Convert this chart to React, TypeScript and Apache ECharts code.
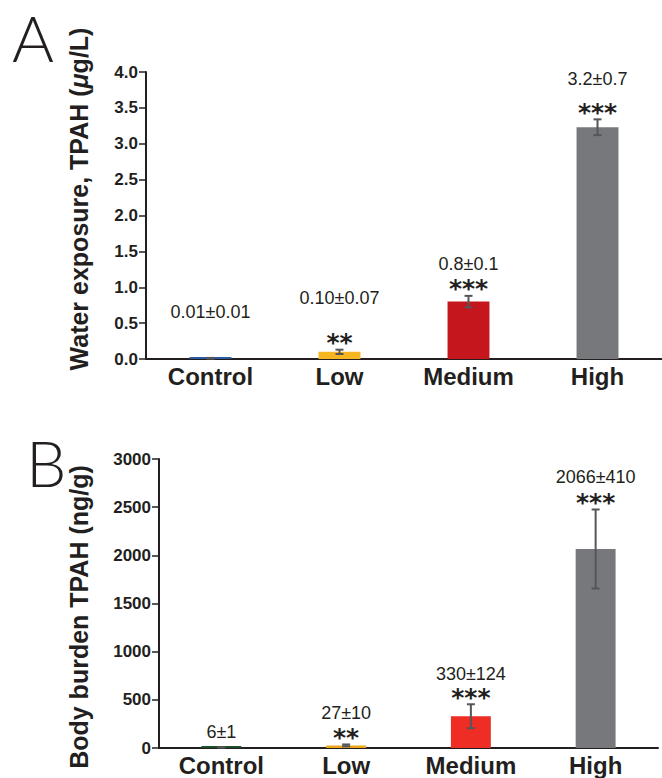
import React, { useEffect, useRef } from "react";
import * as echarts from "echarts";

const categories = ["Control", "Low", "Medium", "High"];

// Panel A: water exposure (µg/L)
const waterMean = [0.01, 0.1, 0.8, 3.23];
const waterErr = [0.005, 0.03, 0.08, 0.11];
const waterLabels = ["0.01±0.01", "0.10±0.07", "0.8±0.1", "3.2±0.7"];
const waterStars = ["", "**", "***", "***"];
const waterColors = ["#2c5aa0", "#f7b520", "#c4161c", "#77787b"];
const waterTicks = [0, 0.5, 1, 1.5, 2, 2.5, 3, 3.5, 4];

// Panel B: body burden (ng/g)
const bodyMean = [6, 27, 330, 2066];
const bodyErr = [1, 10, 124, 410];
const bodyLabels = ["6±1", "27±10", "330±124", "2066±410"];
const bodyStars = ["", "**", "***", "***"];
const bodyColors = ["#1d4f2a", "#eca61c", "#ee2d24", "#77787b"];
const bodyTicks = [0, 500, 1000, 1500, 2000, 2500, 3000];

// label placement (pixels above the error bar top)
const labelLiftA = [46, 52, 32, 40];
const labelLiftB = [15, 31, 30, 32];
const starLift = 7;

const FONT = "'Liberation Sans', Arial, Helvetica, sans-serif";
const STAR_FONT = "'DejaVu Sans', 'Liberation Sans', sans-serif";
const INK = "#231f20";

function makeErrSeries(
  xIdx: number,
  mean: number[],
  err: number[],
  labels: string[],
  stars: string[],
  lifts: number[]
) {
  return {
    type: "custom",
    xAxisIndex: xIdx,
    yAxisIndex: xIdx,
    clip: false,
    silent: true,
    z: 5,
    data: mean.map((m, i) => [i, m, err[i]]),
    renderItem: (params: any, api: any) => {
      const i = api.value(0);
      const m = api.value(1);
      const e = api.value(2);
      const top = api.coord([i, m + e]);
      const bot = api.coord([i, Math.max(m - e, 0)]);
      const x = top[0];
      const cap = 4;
      const st = { stroke: "#55565a", lineWidth: 2 };
      const children: any[] = [
        { type: "line", shape: { x1: x, y1: top[1], x2: x, y2: bot[1] }, style: st },
        { type: "line", shape: { x1: x - cap, y1: top[1], x2: x + cap, y2: top[1] }, style: st },
        { type: "line", shape: { x1: x - cap, y1: bot[1], x2: x + cap, y2: bot[1] }, style: st },
        {
          type: "text",
          x: x,
          y: top[1] - lifts[i],
          style: {
            text: labels[i],
            fill: INK,
            font: `18px ${FONT}`,
            align: "center",
            verticalAlign: "middle",
          },
        },
      ];
      if (stars[i]) {
        children.push({
          type: "text",
          x: x,
          y: top[1] - starLift,
          style: {
            text: stars[i],
            fill: INK,
            font: `bold 25px ${STAR_FONT}`,
            lineHeight: 14,
            align: "center",
            verticalAlign: "middle",
          },
        });
      }
      return { type: "group", children };
    },
  };
}

export default function App() {
  const ref = useRef<HTMLDivElement>(null);
  useEffect(() => {
    if (!ref.current) return;
    const chart = echarts.init(ref.current, undefined, { renderer: "svg" });
    const yAxisCommon = {
      type: "value",
      splitLine: { show: false },
      axisLine: { show: true, lineStyle: { color: INK, width: 2 } },
      axisTick: { show: true, length: 7, lineStyle: { color: INK, width: 1.5 } },
      axisLabel: { color: INK, fontFamily: FONT, fontWeight: "bold", fontSize: 17, margin: 8 },
    };
    const xAxisCommon = {
      type: "category",
      data: categories,
      axisLine: { show: true, lineStyle: { color: INK, width: 2 } },
      axisTick: { show: false },
      axisLabel: { color: INK, fontFamily: FONT, fontWeight: "bold", fontSize: 24, margin: 5 },
    };
    chart.setOption({
      animation: false,
      grid: [
        { left: 146, top: 72, height: 287, right: 0 },
        { left: 159, top: 459, height: 289, right: 4 },
      ],
      xAxis: [
        { ...xAxisCommon, gridIndex: 0 },
        { ...xAxisCommon, gridIndex: 1 },
      ],
      yAxis: [
        {
          ...yAxisCommon,
          gridIndex: 0,
          min: waterTicks[0],
          max: waterTicks[waterTicks.length - 1],
          interval: waterTicks[1] - waterTicks[0],
          axisLabel: { ...yAxisCommon.axisLabel, formatter: (v: number) => v.toFixed(1) },
        },
        {
          ...yAxisCommon,
          gridIndex: 1,
          min: bodyTicks[0],
          max: bodyTicks[bodyTicks.length - 1],
          interval: bodyTicks[1] - bodyTicks[0],
          axisLabel: { ...yAxisCommon.axisLabel, formatter: (v: number) => String(v) },
        },
      ],
      series: [
        {
          type: "bar",
          xAxisIndex: 0,
          yAxisIndex: 0,
          barWidth: "32.5%",
          barMinHeight: 2,
          data: waterMean.map((v, i) => ({ value: v, itemStyle: { color: waterColors[i] } })),
        },
        {
          type: "bar",
          xAxisIndex: 1,
          yAxisIndex: 1,
          barWidth: "32%",
          barMinHeight: 2,
          data: bodyMean.map((v, i) => ({ value: v, itemStyle: { color: bodyColors[i] } })),
        },
        makeErrSeries(0, waterMean, waterErr, waterLabels, waterStars, labelLiftA),
        makeErrSeries(1, bodyMean, bodyErr, bodyLabels, bodyStars, labelLiftB),
      ],
      graphic: [
        {
          type: "text",
          x: 12,
          y: 37,
          style: { text: "A", fill: INK, font: `300 64px Lato, ${FONT}`, verticalAlign: "middle", lineHeight: 50 },
        },
        {
          type: "text",
          x: 26,
          y: 462,
          style: { text: "B", fill: INK, font: `300 64px Lato, ${FONT}`, verticalAlign: "middle", lineHeight: 50 },
        },
        {
          type: "text",
          x: 79,
          y: 199,
          rotation: Math.PI / 2,
          style: {
            text: "Water exposure, TPAH ({i|μ}g/L)",
            fill: INK,
            font: `bold 25px ${FONT}`,
            align: "center",
            verticalAlign: "middle",
            rich: { i: { fontStyle: "italic", fontWeight: "bold", fontSize: 25, fontFamily: FONT, fill: INK } },
          },
        },
        {
          type: "text",
          x: 79,
          y: 617,
          rotation: Math.PI / 2,
          style: {
            text: "Body burden TPAH (ng/g)",
            fill: INK,
            font: `bold 25px ${FONT}`,
            align: "center",
            verticalAlign: "middle",
          },
        },
      ],
    });
    return () => chart.dispose();
  }, []);
  return (
    <div
      ref={ref}
      style={{ position: "fixed", left: 0, top: 0, width: 662, height: 778, background: "#fff" }}
    />
  );
}
